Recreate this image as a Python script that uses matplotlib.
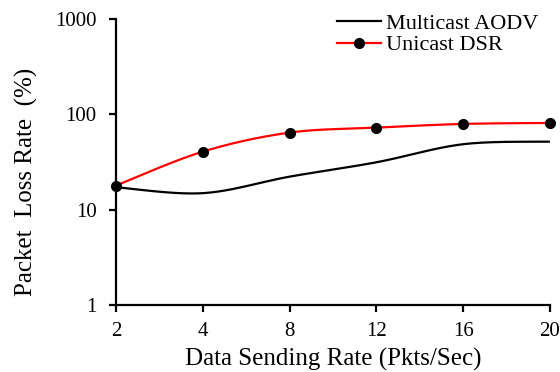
import numpy as np
import matplotlib
matplotlib.use("Agg")
import matplotlib.pyplot as plt

plt.rcParams['font.family'] = ['Liberation Serif', 'DejaVu Serif']

rates = ["2", "4", "8", "12", "16", "20"]
aodv = [17.2, 14.9, 22.2, 31.4, 48.6, 51.7]
dsr = [17.9, 40.6, 64.3, 72.5, 79.3, 81.2]


def smooth(xs, ys, n=40):
    """Cardinal spline through the points (drawn in log space)."""
    xs = np.asarray(xs, float)
    ly = np.log10(np.asarray(ys, float))
    px, py = [], []
    k = len(xs)
    for i in range(k - 1):
        x0, x1 = xs[i], xs[i + 1]
        y0, y1 = ly[i], ly[i + 1]
        xm = xs[i - 1] if i > 0 else x0
        ym = ly[i - 1] if i > 0 else y0
        xp = xs[i + 2] if i + 2 < k else x1
        yp = ly[i + 2] if i + 2 < k else y1
        c1x, c1y = x0 + (x1 - xm) / 6, y0 + (y1 - ym) / 6
        c2x, c2y = x1 - (xp - x0) / 6, y1 - (yp - y0) / 6
        t = np.linspace(0, 1, n)
        bx = (1 - t) ** 3 * x0 + 3 * (1 - t) ** 2 * t * c1x + 3 * (1 - t) * t ** 2 * c2x + t ** 3 * x1
        by = (1 - t) ** 3 * y0 + 3 * (1 - t) ** 2 * t * c1y + 3 * (1 - t) * t ** 2 * c2y + t ** 3 * y1
        px.append(bx)
        py.append(by)
    return np.concatenate(px), 10 ** np.concatenate(py)


fig = plt.figure(figsize=(5.6, 3.72), dpi=100)
ax = fig.add_axes([0.207, 0.180, 0.775, 0.769])

pos = np.arange(len(rates))
sx, sy = smooth(pos, aodv)
ax.plot(sx, sy, color='black', lw=1.6, solid_capstyle='butt', clip_on=False)
sx, sy = smooth(pos, dsr)
ax.plot(sx, sy, color='#ff0000', lw=1.6, solid_capstyle='butt', clip_on=False)
ax.plot(pos, dsr, 'o', color='black', ms=7, zorder=3, clip_on=False)

# legend handles
h1, = ax.plot([], [], color='black', lw=1.6)
h2, = ax.plot([], [], color='#ff0000', lw=1.6, marker='o', mfc='black', mec='black', ms=7)
ax.legend([h1, h2], ["Multicast AODV", "Unicast DSR"], loc='upper left',
          bbox_to_anchor=(0.509, 1.02), frameon=False, fontsize=16,
          handlelength=2.0, handletextpad=0.2, labelspacing=0.05,
          borderaxespad=0.0, borderpad=0.0)

ax.set_yscale('log')
ax.set_ylim(1, 1000)
ax.set_xlim(0, len(rates) - 1)
ax.set_xticks(pos)
ax.set_xticklabels(rates)
ax.set_yticks([1, 10, 100, 1000])
ax.set_yticklabels(["1", "10", "100", "1000"])
ax.yaxis.set_minor_locator(matplotlib.ticker.NullLocator())

for s in ['top', 'right']:
    ax.spines[s].set_visible(False)
for s in ['left', 'bottom']:
    ax.spines[s].set_linewidth(1.6)
    ax.spines[s].set_color('black')
ax.tick_params(axis='both', which='major', length=5, width=1.6, labelsize=15,
               direction='out', color='black')
ax.tick_params(axis='y', pad=9)
ax.tick_params(axis='x', pad=7)

ax.set_xlabel("Data Sending Rate (Pkts/Sec)", fontsize=18, labelpad=5)
ax.set_ylabel("Packet  Loss Rate  (%)", fontsize=18)
ax.yaxis.set_label_coords(-0.18, 0.43)
for lab in ax.get_xticklabels() + ax.get_yticklabels():
    lab.set_clip_on(False)

fig.savefig("out.png", dpi=100)
